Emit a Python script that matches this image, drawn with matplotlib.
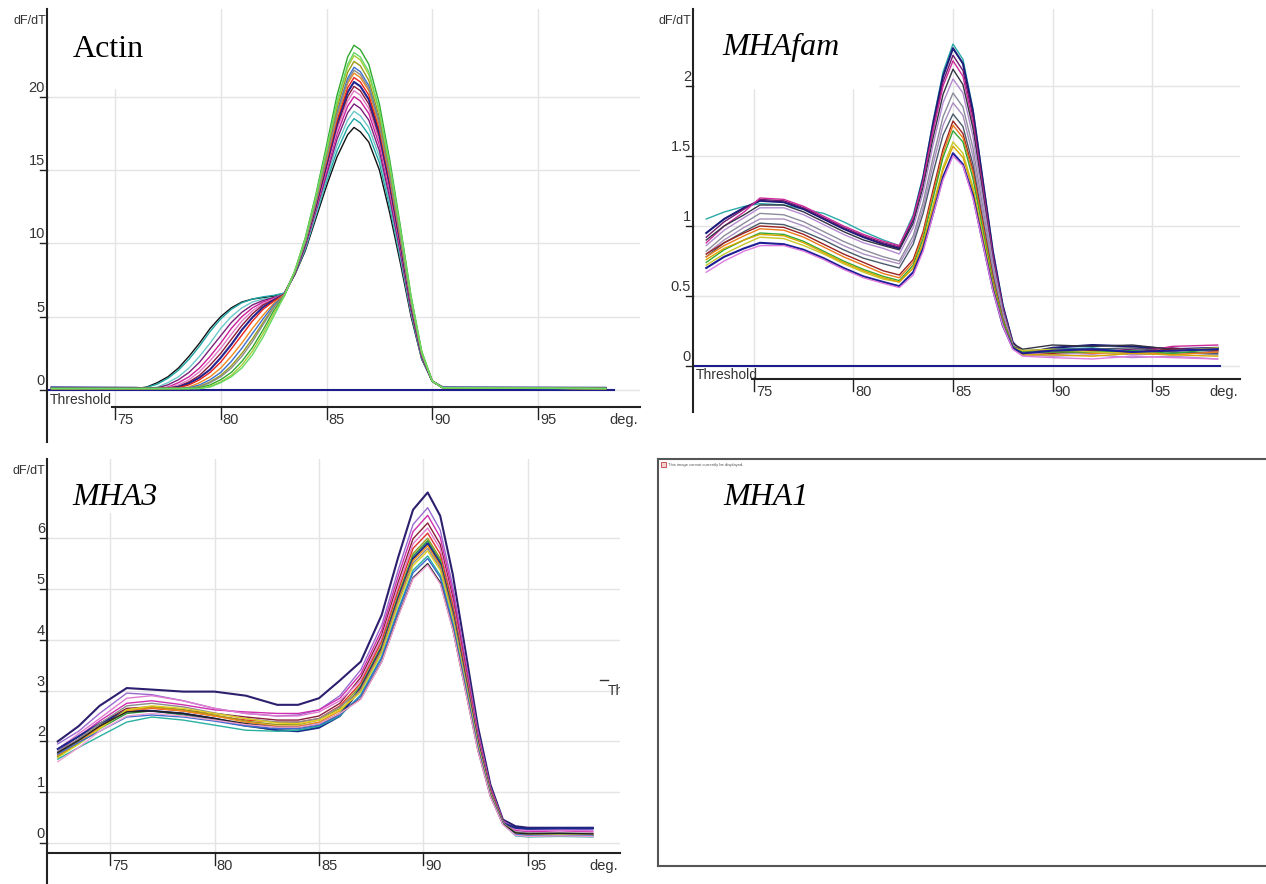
import matplotlib
matplotlib.use('Agg')
import matplotlib.pyplot as plt
from matplotlib import font_manager
from matplotlib.patches import Rectangle

# Data
# ------------------------------------------------------------------------

actin_t = [72, 76, 76.5, 77, 77.5, 78, 78.5, 79, 79.5, 80, 80.5, 81, 81.5, 82, 82.5, 83,
           83.5, 84, 84.5, 85, 85.5, 86, 86.3, 86.6, 87, 87.5, 88, 88.5, 89, 89.5, 90, 90.5, 98.2]
actin_y = [
    [0.1, 0.1, 0.2, 0.5, 0.9, 1.5, 2.3, 3.2, 4.2, 5.0, 5.6, 6.0, 6.2, 6.3, 6.4, 6.6, 7.85, 9.5, 11.7, 13.9, 15.9, 17.4, 17.9, 17.6, 16.9, 15.0, 12.0, 8.6, 5.0, 2.1, 0.6, 0.15, 0.1],
    [0.12, 0.12, 0.18, 0.4, 0.8, 1.35, 2.1, 3.0, 4.0, 4.85, 5.5, 5.95, 6.2, 6.35, 6.45, 6.6, 7.9, 9.6, 11.9, 14.2, 16.3, 17.9, 18.5, 18.2, 17.4, 15.5, 12.4, 8.9, 5.2, 2.15, 0.6, 0.15, 0.12],
    [0.08, 0.1, 0.1, 0.2, 0.5, 0.9, 1.5, 2.3, 3.2, 4.2, 5.0, 5.6, 6.0, 6.2, 6.3, 6.55, 7.9, 9.7, 12.0, 14.4, 16.7, 18.4, 19.0, 18.7, 17.9, 15.9, 12.7, 9.1, 5.3, 2.2, 0.6, 0.15, 0.08],
    [0.1, 0.1, 0.1, 0.15, 0.35, 0.7, 1.2, 1.9, 2.8, 3.7, 4.6, 5.3, 5.8, 6.1, 6.3, 6.5, 7.9, 9.8, 12.2, 14.65, 17.1, 18.9, 19.5, 19.2, 18.4, 16.3, 13.0, 9.3, 5.4, 2.25, 0.6, 0.15, 0.1],
    [0.15, 0.12, 0.1, 0.1, 0.2, 0.5, 0.9, 1.5, 2.3, 3.2, 4.2, 5.0, 5.6, 6.0, 6.25, 6.5, 7.95, 9.85, 12.3, 14.9, 17.45, 19.35, 20.0, 19.7, 18.85, 16.7, 13.35, 9.55, 5.55, 2.3, 0.6, 0.15, 0.12],
    [0.1, 0.1, 0.1, 0.1, 0.15, 0.35, 0.7, 1.25, 2.0, 2.85, 3.8, 4.7, 5.4, 5.9, 6.2, 6.5, 7.97, 9.9, 12.4, 15.1, 17.75, 19.7, 20.4, 20.1, 19.2, 17.0, 13.6, 9.7, 5.65, 2.35, 0.6, 0.15, 0.1],
    [0.1, 0.1, 0.1, 0.1, 0.12, 0.25, 0.55, 1.0, 1.7, 2.5, 3.45, 4.4, 5.2, 5.8, 6.15, 6.5, 7.98, 9.95, 12.5, 15.25, 18.0, 20.0, 20.7, 20.4, 19.5, 17.25, 13.8, 9.85, 5.7, 2.37, 0.6, 0.15, 0.1],
    [0.18, 0.15, 0.1, 0.1, 0.1, 0.2, 0.45, 0.85, 1.4, 2.2, 3.1, 4.1, 4.95, 5.65, 6.1, 6.5, 8.0, 10.0, 12.6, 15.4, 18.2, 20.3, 21.0, 20.7, 19.8, 17.5, 14.0, 10.0, 5.8, 2.4, 0.6, 0.18, 0.15],
    [0.1, 0.1, 0.1, 0.1, 0.1, 0.15, 0.35, 0.7, 1.2, 1.9, 2.8, 3.75, 4.7, 5.5, 6.05, 6.5, 8.0, 10.05, 12.7, 15.55, 18.4, 20.6, 21.3, 21.0, 20.1, 17.75, 14.2, 10.15, 5.9, 2.43, 0.6, 0.15, 0.1],
    [0.1, 0.1, 0.1, 0.1, 0.1, 0.1, 0.2, 0.5, 0.9, 1.5, 2.3, 3.2, 4.2, 5.1, 5.9, 6.5, 8.03, 10.1, 12.8, 15.7, 18.65, 20.9, 21.6, 21.3, 20.4, 18.0, 14.4, 10.3, 5.95, 2.46, 0.6, 0.15, 0.1],
    [0.12, 0.1, 0.1, 0.1, 0.1, 0.1, 0.15, 0.35, 0.7, 1.2, 1.95, 2.85, 3.85, 4.85, 5.8, 6.45, 8.05, 10.15, 12.9, 15.9, 18.95, 21.25, 22.0, 21.7, 20.75, 18.3, 14.65, 10.45, 6.05, 2.5, 0.6, 0.15, 0.12],
    [0.1, 0.1, 0.1, 0.1, 0.1, 0.1, 0.1, 0.25, 0.55, 1.0, 1.65, 2.5, 3.5, 4.6, 5.65, 6.45, 8.07, 10.2, 13.0, 16.1, 19.25, 21.65, 22.4, 22.1, 21.1, 18.6, 14.9, 10.6, 6.15, 2.54, 0.6, 0.15, 0.1],
    [0.1, 0.1, 0.1, 0.1, 0.1, 0.1, 0.1, 0.2, 0.5, 0.9, 1.5, 2.3, 3.3, 4.45, 5.6, 6.45, 8.04, 10.1, 12.85, 15.8, 18.8, 21.05, 21.8, 21.5, 20.55, 18.15, 14.5, 10.35, 6.0, 2.48, 0.6, 0.15, 0.1],
    [0.1, 0.1, 0.1, 0.1, 0.1, 0.1, 0.1, 0.15, 0.35, 0.7, 1.2, 1.95, 2.9, 4.1, 5.4, 6.4, 8.1, 10.4, 13.35, 16.65, 20.1, 22.7, 23.5, 23.2, 22.2, 19.5, 15.6, 11.1, 6.4, 2.65, 0.6, 0.15, 0.1],
    [0.1, 0.1, 0.1, 0.1, 0.1, 0.1, 0.1, 0.1, 0.25, 0.55, 1.0, 1.7, 2.65, 3.85, 5.2, 6.4, 8.1, 10.3, 13.15, 16.3, 19.55, 22.0, 22.8, 22.5, 21.5, 18.95, 15.15, 10.8, 6.25, 2.58, 0.6, 0.15, 0.1],
    [0.1, 0.1, 0.1, 0.1, 0.1, 0.1, 0.1, 0.1, 0.2, 0.5, 0.9, 1.5, 2.4, 3.6, 5.0, 6.4, 8.1, 10.3, 13.2, 16.4, 19.7, 22.2, 23.0, 22.7, 21.7, 19.1, 15.3, 10.9, 6.3, 2.6, 0.6, 0.15, 0.1],
]
actin_colors = ['#111111', '#1fa5a5', '#6cc9c9', '#7a1f7a', '#cc1f99', '#e27ac8', '#8c1a3a', '#23238f',
                '#e8231e', '#f08a1c', '#3a6fd0', '#9a9a1a', '#8a8a8a', '#2fa82f', '#a6cc33', '#66d966']

fam_t = [72.6, 73.5, 74.5, 75.3, 76.5, 77.5, 78.5, 79.5, 80.5, 81.5, 82.3, 83, 83.5, 84, 84.5, 85,
         85.5, 86, 86.5, 87, 87.5, 88, 88.5, 90, 92, 94, 96, 98.3]
fam_y = [
    [1.05, 1.1, 1.14, 1.16, 1.15, 1.12, 1.09, 1.03, 0.96, 0.9, 0.86, 1.08, 1.36, 1.75, 2.1, 2.3, 2.19, 1.84, 1.33, 0.83, 0.44, 0.17, 0.1, 0.12, 0.13, 0.1, 0.11, 0.12],
    [0.95, 1.05, 1.13, 1.18, 1.17, 1.12, 1.05, 0.98, 0.92, 0.87, 0.84, 1.05, 1.34, 1.73, 2.07, 2.27, 2.16, 1.82, 1.32, 0.82, 0.43, 0.17, 0.09, 0.13, 0.15, 0.14, 0.12, 0.13],
    [0.92, 1.03, 1.12, 1.19, 1.18, 1.13, 1.06, 0.99, 0.93, 0.88, 0.85, 1.06, 1.33, 1.7, 2.03, 2.22, 2.11, 1.78, 1.29, 0.8, 0.42, 0.16, 0.1, 0.11, 0.1, 0.12, 0.13, 0.1],
    [0.88, 1.0, 1.1, 1.2, 1.19, 1.14, 1.07, 1.0, 0.94, 0.89, 0.86, 1.06, 1.32, 1.68, 2.0, 2.18, 2.07, 1.74, 1.26, 0.78, 0.41, 0.16, 0.11, 0.1, 0.11, 0.09, 0.14, 0.15],
    [0.9, 1.0, 1.08, 1.15, 1.15, 1.1, 1.03, 0.96, 0.9, 0.86, 0.83, 1.02, 1.28, 1.63, 1.94, 2.12, 2.01, 1.7, 1.23, 0.76, 0.4, 0.16, 0.12, 0.15, 0.14, 0.15, 0.12, 0.11],
    [0.86, 0.97, 1.06, 1.13, 1.13, 1.08, 1.01, 0.94, 0.88, 0.84, 0.8, 0.99, 1.24, 1.58, 1.88, 2.05, 1.95, 1.64, 1.19, 0.74, 0.39, 0.15, 0.08, 0.07, 0.08, 0.06, 0.07, 0.05],
    [0.82, 0.93, 1.02, 1.09, 1.08, 1.03, 0.96, 0.89, 0.83, 0.78, 0.75, 0.93, 1.17, 1.49, 1.78, 1.95, 1.85, 1.56, 1.13, 0.7, 0.37, 0.15, 0.1, 0.1, 0.09, 0.11, 0.1, 0.08],
    [0.8, 0.9, 0.99, 1.05, 1.05, 1.0, 0.93, 0.86, 0.8, 0.76, 0.73, 0.9, 1.13, 1.44, 1.72, 1.88, 1.79, 1.5, 1.09, 0.68, 0.36, 0.15, 0.09, 0.08, 0.1, 0.08, 0.09, 0.1],
    [0.78, 0.88, 0.96, 1.02, 1.01, 0.96, 0.9, 0.83, 0.77, 0.73, 0.7, 0.87, 1.09, 1.38, 1.65, 1.8, 1.71, 1.44, 1.04, 0.65, 0.34, 0.14, 0.11, 0.12, 0.12, 0.13, 0.1, 0.09],
    [0.8, 0.88, 0.95, 1.0, 0.99, 0.94, 0.87, 0.8, 0.74, 0.68, 0.65, 0.76, 0.96, 1.26, 1.55, 1.75, 1.66, 1.4, 1.02, 0.63, 0.33, 0.14, 0.1, 0.09, 0.11, 0.1, 0.12, 0.11],
    [0.78, 0.86, 0.93, 0.98, 0.97, 0.92, 0.85, 0.78, 0.72, 0.66, 0.63, 0.74, 0.94, 1.23, 1.52, 1.72, 1.63, 1.38, 1.0, 0.62, 0.33, 0.14, 0.09, 0.11, 0.09, 0.1, 0.08, 0.1],
    [0.74, 0.83, 0.9, 0.95, 0.94, 0.89, 0.82, 0.75, 0.69, 0.64, 0.61, 0.72, 0.91, 1.2, 1.49, 1.68, 1.6, 1.34, 0.97, 0.6, 0.32, 0.14, 0.1, 0.1, 0.1, 0.11, 0.09, 0.12],
    [0.72, 0.8, 0.87, 0.92, 0.91, 0.86, 0.8, 0.73, 0.67, 0.62, 0.6, 0.7, 0.88, 1.15, 1.42, 1.6, 1.52, 1.28, 0.93, 0.58, 0.3, 0.13, 0.11, 0.12, 0.1, 0.09, 0.11, 0.13],
    [0.76, 0.84, 0.9, 0.94, 0.93, 0.88, 0.81, 0.74, 0.68, 0.63, 0.6, 0.7, 0.87, 1.13, 1.4, 1.57, 1.49, 1.26, 0.91, 0.57, 0.3, 0.13, 0.08, 0.08, 0.07, 0.09, 0.08, 0.07],
    [0.7, 0.78, 0.84, 0.88, 0.87, 0.83, 0.77, 0.7, 0.64, 0.6, 0.57, 0.67, 0.84, 1.09, 1.35, 1.52, 1.44, 1.22, 0.88, 0.55, 0.29, 0.13, 0.09, 0.11, 0.12, 0.1, 0.11, 0.12],
    [0.67, 0.75, 0.82, 0.86, 0.86, 0.82, 0.76, 0.69, 0.63, 0.59, 0.56, 0.65, 0.82, 1.08, 1.33, 1.5, 1.43, 1.2, 0.87, 0.54, 0.29, 0.12, 0.07, 0.06, 0.05, 0.07, 0.06, 0.05],
]
fam_colors = ['#2aa9a9', '#1b1b7a', '#6e1a6e', '#cc2a99', '#333344', '#b48ad0', '#8c8c9c', '#a98fbf',
              '#4a5a6a', '#9a2222', '#ee7a1a', '#33a833', '#c8c828', '#d9a600', '#1e1e96', '#dd7adf']

mha3_t = [72.5, 73.5, 74.5, 75.8, 77, 78.5, 80, 81.5, 83, 84, 85, 86, 87, 88, 88.8, 89.5,
          90.2, 90.8, 91.4, 92, 92.6, 93.2, 93.8, 94.4, 95, 96.5, 98.1]
mha3_y = [
    [2.0, 2.3, 2.7, 3.05, 3.02, 2.98, 2.98, 2.9, 2.72, 2.72, 2.85, 3.2, 3.57, 4.49, 5.64, 6.56, 6.9, 6.44, 5.29, 3.8, 2.3, 1.15, 0.46, 0.33, 0.3, 0.3, 0.3],
    [1.95, 2.2, 2.55, 2.95, 2.92, 2.8, 2.65, 2.55, 2.5, 2.52, 2.62, 2.9, 3.41, 4.29, 5.39, 6.27, 6.6, 6.16, 5.06, 3.63, 2.2, 1.1, 0.44, 0.28, 0.26, 0.27, 0.26],
    [1.8, 2.1, 2.4, 2.75, 2.8, 2.72, 2.62, 2.58, 2.55, 2.55, 2.62, 2.85, 3.33, 4.19, 5.27, 6.13, 6.45, 6.02, 4.95, 3.55, 2.15, 1.08, 0.43, 0.25, 0.22, 0.24, 0.22],
    [1.75, 2.05, 2.35, 2.65, 2.68, 2.62, 2.55, 2.48, 2.42, 2.42, 2.5, 2.75, 3.26, 4.1, 5.15, 5.99, 6.3, 5.88, 4.83, 3.47, 2.1, 1.05, 0.42, 0.2, 0.18, 0.18, 0.17],
    [1.85, 2.15, 2.45, 2.85, 2.9, 2.8, 2.65, 2.55, 2.5, 2.5, 2.58, 2.8, 3.2, 4.03, 5.06, 5.89, 6.2, 5.79, 4.75, 3.41, 2.07, 1.03, 0.41, 0.27, 0.25, 0.25, 0.24],
    [1.7, 2.0, 2.3, 2.6, 2.65, 2.6, 2.5, 2.42, 2.38, 2.38, 2.45, 2.7, 3.15, 3.97, 4.98, 5.8, 6.1, 5.69, 4.68, 3.36, 2.03, 1.02, 0.41, 0.2, 0.17, 0.18, 0.17],
    [1.75, 2.0, 2.3, 2.62, 2.68, 2.62, 2.52, 2.4, 2.33, 2.33, 2.42, 2.65, 3.1, 3.9, 4.9, 5.7, 6.0, 5.6, 4.6, 3.3, 2.0, 1.0, 0.4, 0.18, 0.15, 0.16, 0.16],
    [1.7, 1.95, 2.25, 2.55, 2.6, 2.52, 2.42, 2.3, 2.22, 2.22, 2.3, 2.55, 3.08, 3.87, 4.86, 5.65, 5.95, 5.55, 4.56, 3.27, 1.98, 0.99, 0.4, 0.16, 0.13, 0.14, 0.13],
    [1.85, 2.1, 2.35, 2.6, 2.6, 2.55, 2.45, 2.32, 2.22, 2.2, 2.27, 2.5, 3.05, 3.83, 4.82, 5.6, 5.9, 5.5, 4.52, 3.24, 1.97, 0.98, 0.39, 0.3, 0.28, 0.29, 0.29],
    [1.72, 1.98, 2.28, 2.6, 2.66, 2.6, 2.5, 2.38, 2.3, 2.3, 2.38, 2.6, 3.02, 3.8, 4.78, 5.56, 5.85, 5.46, 4.49, 3.22, 1.95, 0.98, 0.39, 0.18, 0.16, 0.15, 0.16],
    [1.8, 2.05, 2.35, 2.7, 2.75, 2.68, 2.56, 2.45, 2.38, 2.38, 2.45, 2.68, 3.0, 3.77, 4.74, 5.51, 5.8, 5.41, 4.45, 3.19, 1.93, 0.97, 0.39, 0.22, 0.2, 0.2, 0.19],
    [1.68, 1.95, 2.25, 2.62, 2.7, 2.65, 2.55, 2.45, 2.36, 2.35, 2.42, 2.62, 2.97, 3.74, 4.7, 5.46, 5.75, 5.37, 4.41, 3.16, 1.92, 0.96, 0.38, 0.19, 0.17, 0.17, 0.16],
    [1.65, 1.88, 2.1, 2.38, 2.48, 2.42, 2.32, 2.22, 2.2, 2.22, 2.3, 2.5, 2.92, 3.67, 4.61, 5.37, 5.65, 5.27, 4.33, 3.11, 1.88, 0.94, 0.38, 0.14, 0.12, 0.13, 0.12],
    [1.75, 1.98, 2.2, 2.48, 2.52, 2.48, 2.4, 2.3, 2.25, 2.25, 2.32, 2.52, 2.89, 3.64, 4.57, 5.32, 5.6, 5.23, 4.29, 3.08, 1.87, 0.93, 0.37, 0.17, 0.15, 0.15, 0.15],
    [1.78, 2.02, 2.3, 2.58, 2.6, 2.55, 2.45, 2.35, 2.28, 2.28, 2.35, 2.55, 2.84, 3.57, 4.49, 5.22, 5.5, 5.13, 4.21, 3.02, 1.83, 0.92, 0.37, 0.2, 0.18, 0.19, 0.18],
    [1.6, 1.88, 2.2, 2.5, 2.55, 2.5, 2.42, 2.33, 2.28, 2.28, 2.35, 2.55, 2.83, 3.56, 4.47, 5.2, 5.47, 5.1, 4.2, 3.01, 1.82, 0.91, 0.36, 0.15, 0.13, 0.14, 0.13],
]
mha3_colors = ['#2b1f6e', '#9a6ad0', '#d02fb0', '#8a1f3a', '#e07ad0', '#e0302a', '#9a9a22', '#2f9a3f',
               '#1a2a8a', '#ee8a1a', '#8c8c8c', '#e0d020', '#2ab0a0', '#3a6ad0', '#222222', '#f0a0d0']

x_ticks = [75, 80, 85, 90, 95]

# Plot
# ----------------------------------------------------------------------------------

names = {f.name for f in font_manager.fontManager.ttflist}
NARROW = 'Liberation Sans Narrow' in names
SANS = 'Liberation Sans Narrow' if NARROW else 'Liberation Sans'
FS = 11 if NARROW else 10
SERIF = 'Liberation Serif'
INK = '#333333'
GRID = '#e4e4e4'

W, H = 1266, 884
fig = plt.figure(figsize=(W / 100, H / 100), dpi=100)


def px_axes(x0, y0, x1, y1):
    return fig.add_axes([x0 / W, 1 - y1 / H, (x1 - x0) / W, (y1 - y0) / H])


def panel(box, x75, ppd, y0px, ppu, temps, curves, colors, yticks, ylabels, axis_py, axis_from):
    bx0, by0, bx1, by1 = box
    tx = lambda px: 75 + (px - x75) / ppd
    vy = lambda py: (y0px - py) / ppu
    ax = px_axes(*box)
    ax.set_xlim(tx(bx0), tx(bx1))
    ax.set_ylim(vy(by1), vy(by0))
    ax.axis('off')

    # grid
    for t in x_ticks:
        ax.plot([t, t], [vy(axis_py), vy(by0)], color=GRID, lw=1, zorder=1)
    for v in yticks:
        ax.plot([tx(bx0), tx(bx1)], [v, v], color=GRID, lw=1, zorder=1)

    # curves
    for c, col in zip(curves, colors):
        lw = 1.5 if col in ('#1b1b7a', '#1e1e96', '#2b1f6e', '#1a2a8a', '#23238f') else 1.0
        ax.plot(temps, c, color=col, lw=lw, zorder=3)

    # y axis
    ax.plot([tx(bx0)] * 2, [vy(by0), vy(by1)], color='#222222', lw=1.5, clip_on=False, zorder=6)
    for v, lab in zip(yticks, ylabels):
        ax.plot([tx(bx0 - 7), tx(bx0)], [v, v], color='#222222', lw=1, clip_on=False, zorder=6)
        ax.text(tx(bx0 - 2), v + 2 / ppu, lab, ha='right', va='bottom', fontsize=FS + 0.5,
                family=SANS, color=INK, zorder=6)
    ax.text(tx(bx0 - 34), vy(by0 + 12), 'dF/dT', ha='left', va='center', fontsize=FS - 1,
            family=SANS, color=INK)

    # x axis
    ax.plot([tx(axis_from), tx(bx1)], [vy(axis_py)] * 2, color='#222222', lw=1.5,
            clip_on=False, zorder=6)
    for t in x_ticks:
        ax.plot([t, t], [vy(axis_py), vy(axis_py + 12)], color='#222222', lw=1,
                clip_on=False, zorder=6)
        ax.text(t + 2 / ppd, vy(axis_py + 13), str(t), ha='left', va='center', fontsize=FS + 0.5,
                family=SANS, color=INK)
    ax.text(tx(bx1 - 2), vy(axis_py + 13), 'deg.', ha='right', va='center', fontsize=FS + 0.5,
            family=SANS, color=INK)
    return ax, tx, vy


# Actin
ax1, tx, vy = panel((47, 9, 640, 442), 115, 21.15, 390, 14.67, actin_t, actin_y, actin_colors,
                    [0, 5, 10, 15, 20], ['0', '5', '10', '15', '20'], 407, 112)
ax1.plot([tx(47), tx(614)], [0, 0], color='#1c1c8a', lw=1.5, zorder=2.5)
ax1.text(tx(50), vy(400), 'Threshold', ha='left', va='center', fontsize=FS, family=SANS, color=INK)
ax1.add_patch(Rectangle((tx(49), vy(88)), tx(208) - tx(49), vy(9) - vy(88), color='white', zorder=2))
ax1.text(tx(73), vy(57), 'Actin', ha='left', va='baseline', fontsize=23, family=SERIF,
         color='black', zorder=5)

# MHAfam
ax2, tx, vy = panel((693, 9, 1240, 412), 754, 19.9, 366, 140, fam_t, fam_y, fam_colors,
                    [0, 0.5, 1, 1.5, 2], ['0', '0.5', '1', '1.5', '2'], 379, 752)
ax2.plot([tx(693), tx(1220)], [0, 0], color='#1c1c8a', lw=1.5, zorder=2.5)
ax2.text(tx(696), vy(375), 'Threshold', ha='left', va='center', fontsize=FS, family=SANS, color=INK)
ax2.add_patch(Rectangle((tx(695), vy(88)), tx(878) - tx(695), vy(9) - vy(88), color='white', zorder=2))
ax2.text(tx(722), vy(55), 'MHAfam', ha='left', va='baseline', fontsize=23, family=SERIF,
         style='italic', color='black', zorder=5)

# MHA3
ax3, tx, vy = panel((47, 459, 620, 884), 110, 20.9, 843, 50.8, mha3_t, mha3_y, mha3_colors,
                    [0, 1, 2, 3, 4, 5, 6], ['0', '1', '2', '3', '4', '5', '6'], 853, 47)
ax3.plot([tx(600), tx(608)], [vy(680)] * 2, color=INK, lw=1, zorder=5)
ax3.text(tx(608), vy(691), 'Threshold', ha='left', va='center', fontsize=FS, family=SANS,
         color=INK, clip_on=True, zorder=5)
ax3.text(tx(72), vy(505), 'MHA3', ha='left', va='baseline', fontsize=23, family=SERIF,
         style='italic', color='black', zorder=5,
         bbox=dict(facecolor='white', edgecolor='none', pad=1))

# MHA1 (image placeholder)
ax4 = px_axes(658, 459, 1266, 866)
ax4.set_xlim(658, 1266)
ax4.set_ylim(866, 459)
ax4.set_xticks([])
ax4.set_yticks([])
for side in ('top', 'left', 'bottom'):
    ax4.spines[side].set_color('#555555')
    ax4.spines[side].set_linewidth(1.5)
ax4.spines['right'].set_visible(False)
ax4.add_patch(Rectangle((661, 462), 5, 5, facecolor='#f4d0d0', edgecolor='#c04040', lw=0.6))
ax4.text(668, 465, 'This image cannot currently be displayed.', ha='left', va='center',
         fontsize=3, family=SANS, color='#555555')
ax4.text(723, 505, 'MHA1', ha='left', va='baseline', fontsize=23, family=SERIF,
         style='italic', color='black')

fig.savefig('out.png', dpi=100, facecolor='white')
